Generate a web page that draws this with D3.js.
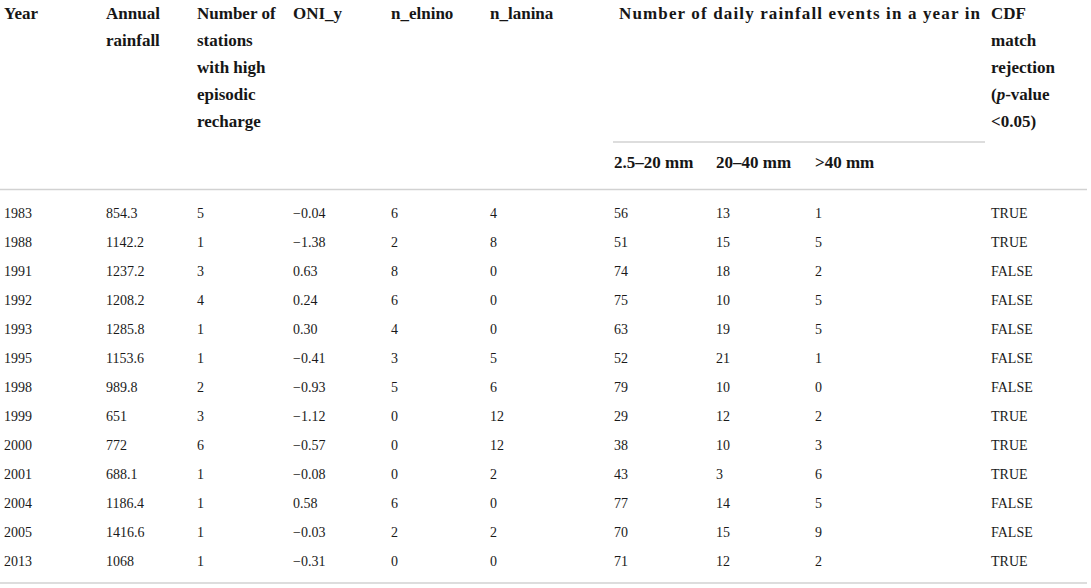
<!DOCTYPE html>
<html>
<head>
<meta charset="utf-8">
<script src="https://cdn.jsdelivr.net/npm/d3@7/dist/d3.min.js"></script>
<style>
  body { margin: 0; background: #fff; }
  svg { display: block; }
</style>
</head>
<body>
<div id="table"></div>
<script>
// table values, one array per column
const years = [1983, 1988, 1991, 1992, 1993, 1995, 1998, 1999, 2000, 2001, 2004, 2005, 2013];
const annualRainfall = [854.3, 1142.2, 1237.2, 1208.2, 1285.8, 1153.6, 989.8, 651, 772, 688.1, 1186.4, 1416.6, 1068];
const nStations = [5, 1, 3, 4, 1, 1, 2, 3, 6, 1, 1, 1, 1];
const oniY = [-0.04, -1.38, 0.63, 0.24, 0.30, -0.41, -0.93, -1.12, -0.57, -0.08, 0.58, -0.03, -0.31];
const nElnino = [6, 2, 8, 6, 4, 3, 5, 0, 0, 0, 6, 2, 0];
const nLanina = [4, 8, 0, 0, 0, 5, 6, 12, 12, 2, 0, 2, 0];
const events2to20 = [56, 51, 74, 75, 63, 52, 79, 29, 38, 43, 77, 70, 71];
const events20to40 = [13, 15, 18, 10, 19, 21, 10, 12, 10, 3, 14, 15, 12];
const eventsOver40 = [1, 5, 2, 5, 5, 1, 0, 2, 3, 6, 5, 9, 2];
const cdfRejection = [true, true, false, false, false, false, false, true, true, true, false, false, true];

const headerLines = {
  year: ['Year'],
  rain: ['Annual', 'rainfall'],
  stations: ['Number of', 'stations', 'with high', 'episodic', 'recharge'],
  oni: ['ONI_y'],
  elnino: ['n_elnino'],
  lanina: ['n_lanina'],
  group: ['Number of daily rainfall events in a year in'],
  cdf: ['CDF', 'match', 'rejection', '(p-value', '<0.05)']
};
const subHeaders = ['2.5–20 mm', '20–40 mm', '>40 mm'];

const width = 1091;
const height = 588;
const svg = d3.select('#table').append('svg').attr('width', width).attr('height', height);

const serif = '"Liberation Serif", "Times New Roman", serif';
const fmt2 = d3.format('.2f');

const columns = [
  { key: 'year', x: 4, values: years, fmt: String },
  { key: 'rain', x: 106, values: annualRainfall, fmt: String },
  { key: 'stations', x: 197, values: nStations, fmt: String },
  { key: 'oni', x: 293, values: oniY, fmt: fmt2 },
  { key: 'elnino', x: 391, values: nElnino, fmt: String },
  { key: 'lanina', x: 490, values: nLanina, fmt: String },
  { key: 'ev1', x: 614, values: events2to20, fmt: String },
  { key: 'ev2', x: 716, values: events20to40, fmt: String },
  { key: 'ev3', x: 815, values: eventsOver40, fmt: String },
  { key: 'cdf', x: 991, values: cdfRejection, fmt: (d) => (d ? 'TRUE' : 'FALSE') }
];
const colX = Object.fromEntries(columns.map((c) => [c.key, c.x]));

// header
const headerLine = d3.scaleLinear().domain([0, 1]).range([19, 46]);
const header = svg.append('g')
  .attr('font-family', serif).attr('font-weight', 700)
  .attr('font-size', 17).attr('fill', '#161616');

Object.entries(headerLines).forEach(([key, lines]) => {
  const x = key === 'group' ? colX.ev1 + 5 : colX[key];
  const t = header.append('text').attr('x', x);
  lines.forEach((line, i) => {
    const ts = t.append('tspan').attr('x', x).attr('y', headerLine(i));
    if (line.startsWith('(p-')) {
      ts.text('(');
      ts.append('tspan').attr('font-style', 'italic').text('p');
      ts.append('tspan').text(line.slice(2));
    } else {
      ts.text(line);
    }
  });
  // the spanning header is set wider in the original
  if (key === 'group') t.attr('textLength', 361).attr('lengthAdjust', 'spacing');
});

header.selectAll('text.sub')
  .data(subHeaders)
  .join('text')
  .attr('class', 'sub')
  .attr('x', (d, i) => colX['ev' + (i + 1)])
  .attr('y', 168)
  .text((d) => d);

// rules
const rules = svg.append('g').attr('stroke', '#d2d2d2').attr('stroke-width', 1.6);
rules.append('line').attr('x1', 613).attr('x2', 985).attr('y1', 142).attr('y2', 142);
rules.append('line').attr('x1', 0).attr('x2', 1087).attr('y1', 189.5).attr('y2', 189.5);
rules.append('line').attr('x1', 0).attr('x2', 1087).attr('y1', 583).attr('y2', 583);

// body rows
const y = d3.scalePoint().domain(years).range([218, 566]);
const body = svg.append('g')
  .attr('font-family', serif).attr('font-size', 14).attr('fill', '#1a1a1a');

columns.forEach((col) => {
  body.append('g').selectAll('text')
    .data(col.values)
    .join('text')
    .attr('x', col.x)
    .attr('y', (d, i) => y(years[i]))
    .text((d) => col.fmt(d));
});
</script>
</body>
</html>
